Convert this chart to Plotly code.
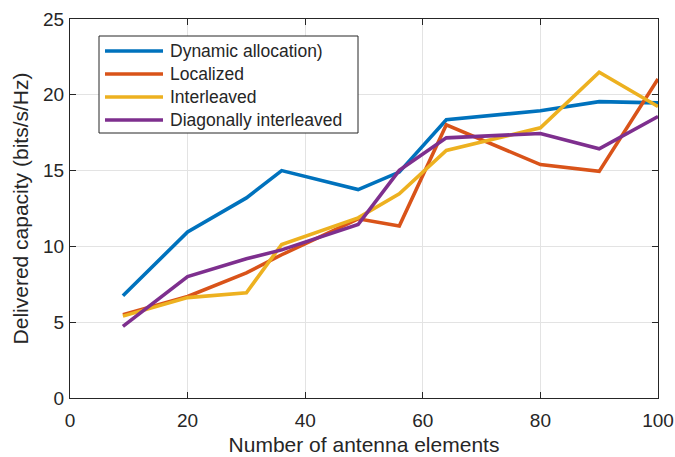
import plotly.graph_objects as go

x_elements = [9, 20, 30, 36, 49, 56, 64, 80, 90, 100]
dynamic = [6.75, 10.95, 13.2, 15.0, 13.75, 14.9, 18.35, 18.95, 19.55, 19.47]
localized = [5.5, 6.7, 8.25, 9.45, 11.82, 11.35, 18.02, 15.4, 14.95, 21.05]
interleaved = [5.4, 6.62, 6.94, 10.13, 11.88, 13.47, 16.33, 17.82, 21.49, 19.23]
diagonal = [4.72, 8.01, 9.18, 9.77, 11.44, 15.02, 17.16, 17.45, 16.44, 18.57]

series_names = ["Dynamic allocation)", "Localized", "Interleaved", "Diagonally interleaved"]
series_values = [dynamic, localized, interleaved, diagonal]
colors = ["#0072BD", "#D95319", "#EDB120", "#7E2F8E"]

x_ticks = [0, 20, 40, 60, 80, 100]
y_ticks = [0, 5, 10, 15, 20, 25]

FONT = "Liberation Sans, Arial, Helvetica, sans-serif"
TXT = "#262626"

W, H = 675, 457
ML, MR, MT, MB = 70, 17, 19, 59
PW, PH = W - ML - MR, H - MT - MB


def px(xp):
    return (xp - ML) / PW


def py(yp):
    return (H - MB - yp) / PH


fig = go.Figure()
for name, vals, col in zip(series_names, series_values, colors):
    fig.add_trace(go.Scatter(x=x_elements, y=vals, mode="lines", name=name,
                             line=dict(color=col, width=3.6), showlegend=False))

axis_common = dict(
    showline=True, linecolor=TXT, linewidth=1, mirror="ticks",
    ticks="inside", ticklen=6, tickcolor=TXT, tickwidth=1,
    showgrid=True, gridcolor="#E3E3E3", gridwidth=1, automargin=False,
    zeroline=False, tickfont=dict(family=FONT, size=19, color=TXT),
)

fig.update_xaxes(range=[0, 100], tickvals=x_ticks, ticklabelstandoff=5, **axis_common,
                 title=dict(text="Number of antenna elements",
                            font=dict(family=FONT, size=21, color=TXT), standoff=7))
fig.update_yaxes(range=[0, 25], tickvals=y_ticks, ticklabelstandoff=1, **axis_common,
                 title=dict(text="Delivered capacity (bits/s/Hz)",
                            font=dict(family=FONT, size=21, color=TXT), standoff=8))

# Legend box drawn manually (MATLAB style)
shapes = [dict(type="rect", xref="paper", yref="paper",
               x0=px(99), x1=px(358), y0=py(133), y1=py(36),
               line=dict(color=TXT, width=1), fillcolor="white", layer="above")]
annotations = []
row_y = [51, 74, 97, 120]
for name, col, ry in zip(series_names, colors, row_y):
    shapes.append(dict(type="line", xref="paper", yref="paper",
                       x0=px(105), x1=px(163), y0=py(ry), y1=py(ry),
                       line=dict(color=col, width=3.6), layer="above"))
    annotations.append(dict(xref="paper", yref="paper", x=px(168), y=py(ry),
                            xanchor="left", yanchor="middle", showarrow=False,
                            text=name, font=dict(family=FONT, size=17.5, color=TXT)))

fig.update_layout(
    width=W, height=H,
    margin=dict(l=ML, r=MR, t=MT, b=MB),
    paper_bgcolor="white", plot_bgcolor="white",
    font=dict(family=FONT, color=TXT),
    showlegend=False,
    shapes=shapes, annotations=annotations,
)

fig.write_html("out.html")
